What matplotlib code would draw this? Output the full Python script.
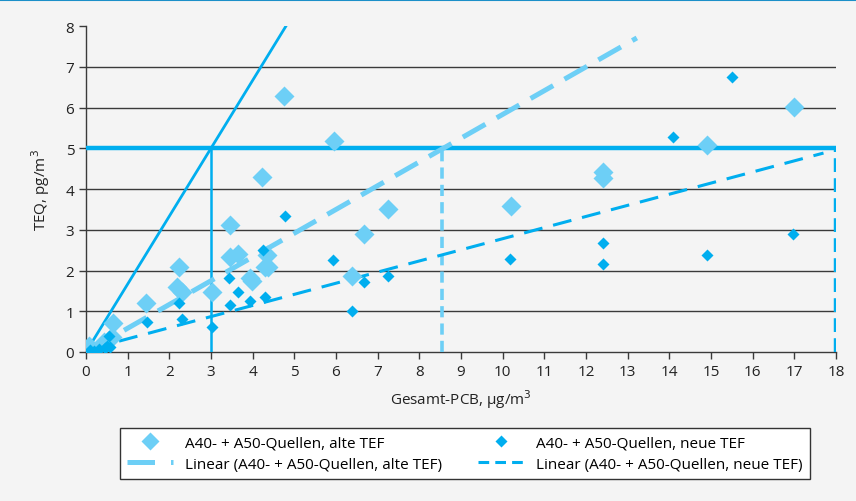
import numpy as np
import matplotlib.pyplot as plt
from matplotlib.lines import Line2D

# A40- + A50-Quellen, alte TEF
alt_x = [4.76, 5.96, 4.23, 3.46, 3.46, 3.64, 4.34, 4.30, 4.37, 3.94, 3.98, 3.03,
         2.22, 2.18, 2.30, 1.44, 0.64, 0.62, 0.42, 0.06, 0.17, 6.38, 6.66, 7.25,
         10.2, 12.4, 12.4, 14.9, 17.0]
alt_y = [6.28, 5.19, 4.30, 3.11, 2.32, 2.40, 2.38, 2.08, 2.08, 1.81, 1.74, 1.48,
         2.08, 1.59, 1.48, 1.20, 0.71, 0.37, 0.25, 0.15, 0.03, 1.87, 2.90, 3.51,
         3.58, 4.42, 4.27, 5.08, 6.02]

# A40- + A50-Quellen, neue TEF
neu_x = [4.78, 5.93, 6.66, 6.38, 7.25, 3.43, 3.64, 3.46, 3.94, 4.30, 4.25, 3.02,
         2.22, 2.30, 1.46, 0.55, 0.45, 0.50, 0.58, 0.10, 0.20, 0.30,
         10.18, 12.4, 12.4, 14.9, 16.97, 14.09, 15.5]
neu_y = [3.34, 2.26, 1.72, 1.00, 1.87, 1.81, 1.47, 1.15, 1.25, 1.36, 2.50, 0.62,
         1.20, 0.80, 0.74, 0.40, 0.10, 0.15, 0.12, 0.05, 0.02, 0.08,
         2.28, 2.67, 2.16, 2.38, 2.90, 5.28, 6.75]

# trend lines: (x start, x end, slope, intercept)
trend_alt = (0.1, 13.22, 0.583, 0.0)
trend_neu = (0.1, 17.7, 0.273, 0.05)

limit_teq = 5
steep_x = [0, 4.8]            # solid reference line through (3, 5)
steep_y = [0, 8]
cross_alt = 8.55
cross_neu = 18

light = '#6dcff6'
dark = '#00aeef'
bg = '#f4f4f4'

plt.rcParams['font.family'] = ['Open Sans', 'DejaVu Sans']

fig = plt.figure(figsize=(8.56, 5.02), dpi=100, facecolor=bg)
ax = fig.add_axes([86/856, 1-353/502, 750/856, 326/502], facecolor=bg)

for yv in range(1, 8):
    ax.plot([0, 18], [yv, yv], color='#3a3a3a', lw=1.0, zorder=1)

ax.plot(steep_x, steep_y, color=dark, lw=2.0, zorder=3)
ax.plot([0, 18], [limit_teq, limit_teq], color=dark, lw=3.2, zorder=3, solid_capstyle='butt')
ax.plot([3, 3], [0, limit_teq], color=dark, lw=1.8, zorder=3)
ax.plot([cross_alt, cross_alt], [0, limit_teq], color=light, lw=2.6, ls=(0, (3.1, 1.7)), zorder=3)
ax.plot([cross_neu, cross_neu], [0, limit_teq], color=dark, lw=3.2, ls=(0, (3.1, 1.4)), zorder=3)

xs = np.array(trend_alt[:2])
ax.plot(xs, trend_alt[2]*xs + trend_alt[3], color=light, lw=3.6, ls=(0, (5.2, 2.6)), zorder=4)
xs = np.array(trend_neu[:2])
ax.plot(xs, trend_neu[2]*xs + trend_neu[3], color=dark, lw=2.2, ls=(0, (6.2, 3.6)), zorder=4)

ax.plot(alt_x, alt_y, 'D', color=light, ms=10, mec='none', zorder=5)
ax.plot(neu_x, neu_y, 'D', color=dark, ms=6.5, mec='none', zorder=6)

ax.set_xlim(0, 18)
ax.set_ylim(0, 8)
ax.set_xticks(range(0, 19))
ax.set_yticks(range(0, 9))
for s in ['top', 'right']:
    ax.spines[s].set_visible(False)
for s in ['left', 'bottom']:
    ax.spines[s].set_color('#3a3a3a')
    ax.spines[s].set_linewidth(1.0)
ax.tick_params(direction='out', length=5, width=1, color='#3a3a3a', labelsize=11, labelcolor='#222222')
ax.set_xlabel('Gesamt-PCB, µg/m$^3$', fontsize=11, color='#222222', labelpad=6)
ax.set_ylabel('TEQ, pg/m$^3$', fontsize=11, color='#222222', labelpad=10)

handles = [
    Line2D([], [], ls='none', marker='D', color=light, ms=9, mec='none'),
    Line2D([], [], ls='none', marker='D', color=dark, ms=6, mec='none'),
    Line2D([], [], color=light, lw=3.6, ls=(0, (5.5, 3.2))),
    Line2D([], [], color=dark, lw=2.2, ls=(0, (3.5, 2))),
]
labels = ['A40- + A50-Quellen, alte TEF', 'A40- + A50-Quellen, neue TEF',
          'Linear (A40- + A50-Quellen, alte TEF)', 'Linear (A40- + A50-Quellen, neue TEF)']
order = [0, 2, 1, 3]
leg = fig.legend([handles[i] for i in order], [labels[i] for i in order], ncol=2,
                 loc='lower left', bbox_to_anchor=(112/856, 14/502, 706/856, 60/502),
                 mode='expand', fontsize=11, frameon=True, fancybox=False,
                 edgecolor='#333333', facecolor='white', framealpha=1,
                 handlelength=3, borderpad=0.5, labelspacing=0.4)
leg.get_frame().set_linewidth(1.0)

fig.add_artist(Line2D([0, 1], [0.999, 0.999], color='#1b8fc8', lw=1.5, transform=fig.transFigure))

fig.savefig('out.png', dpi=100, facecolor=bg)
